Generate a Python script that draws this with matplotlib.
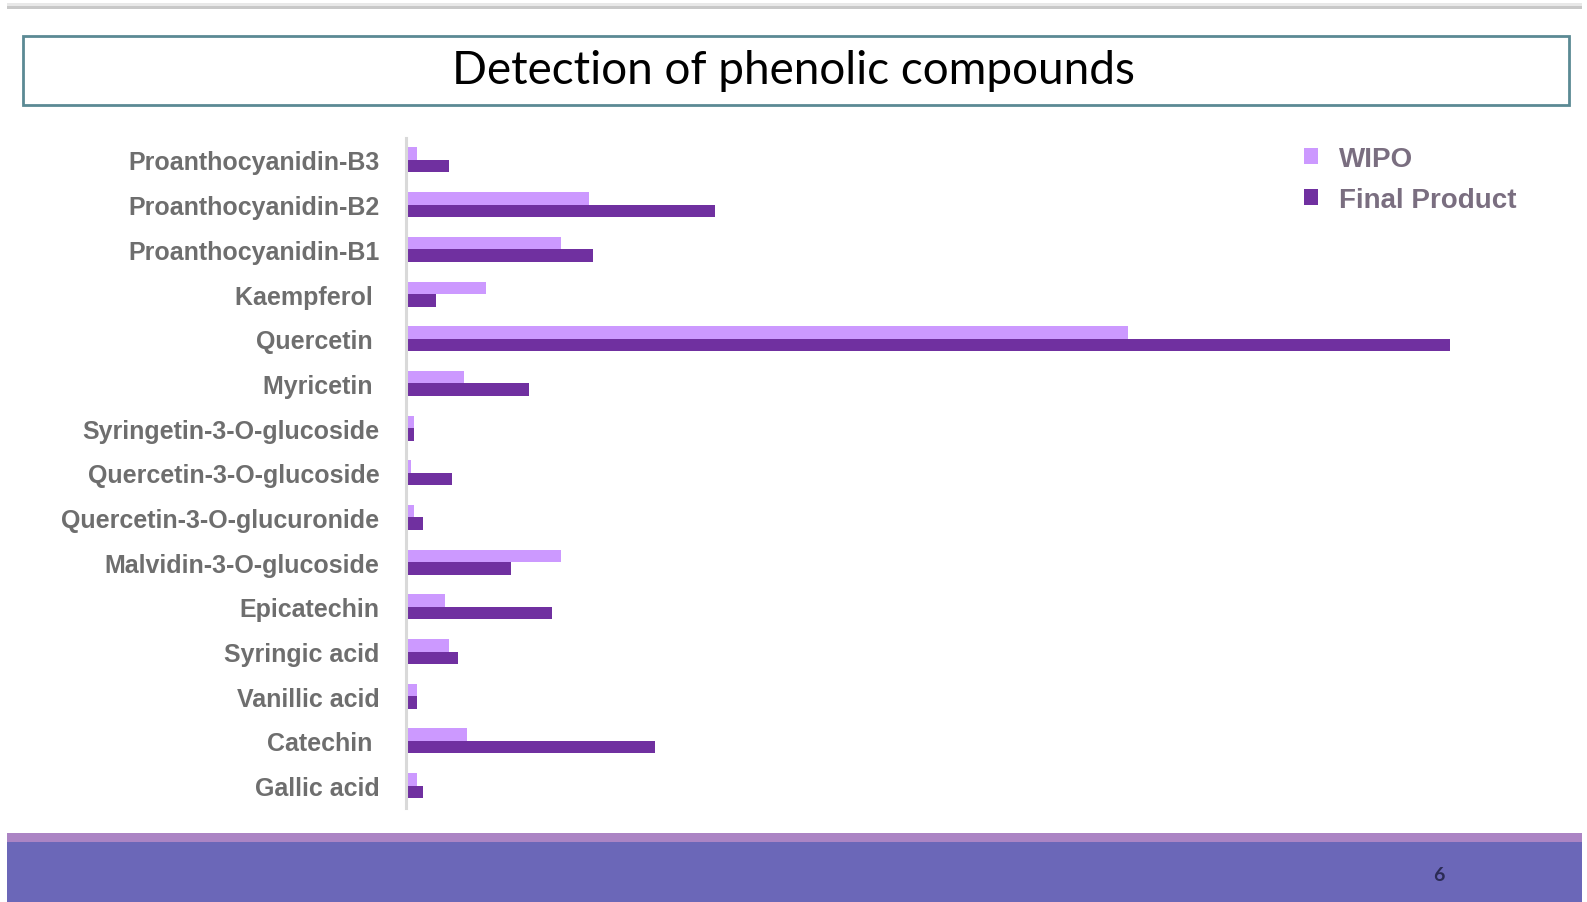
import numpy as np
import matplotlib
matplotlib.use("Agg")
import matplotlib.pyplot as plt
from matplotlib.patches import Rectangle

compounds = [
    "Proanthocyanidin-B3",
    "Proanthocyanidin-B2",
    "Proanthocyanidin-B1",
    "Kaempferol ",
    "Quercetin ",
    "Myricetin ",
    "Syringetin-3-O-glucoside",
    "Quercetin-3-O-glucoside",
    "Quercetin-3-O-glucuronide",
    "Malvidin-3-O-glucoside",
    "Epicatechin",
    "Syringic acid",
    "Vanillic acid",
    "Catechin ",
    "Gallic acid",
]
wipo = [9, 181, 153, 78, 720, 56, 6, 3, 6, 153, 37, 41, 9, 59, 9]
final_product = [41, 307, 185, 28, 1042, 121, 6, 44, 15, 103, 144, 50, 9, 247, 15]

W, H = 1587, 903
fig = plt.figure(figsize=(W / 100, H / 100), dpi=100)
fig.patch.set_facecolor("white")

def box(x0, y0, x1, y1, **kw):
    # pixel coords, y measured from the top
    fig.add_artist(Rectangle((x0 / W, 1 - y1 / H), (x1 - x0) / W, (y1 - y0) / H,
                             transform=fig.transFigure, **kw))

# slide decorations
box(7, 4, 1582, 7, facecolor="#e8e8e8", edgecolor="none")
box(7, 7, 1582, 10, facecolor="#c8c8c8", edgecolor="none")
box(23, 37, 1569, 106, facecolor="white", edgecolor="#5b8a94", linewidth=2)
box(7, 834, 1582, 843, facecolor="#ab84c4", edgecolor="none")
box(7, 843, 1582, 903, facecolor="#6b67b8", edgecolor="none")

fig.text(0.5, 1 - 71 / H, "Detection of phenolic compounds", ha="center", va="center",
         fontsize=33, family=["Lato", "DejaVu Sans"], color="black")
fig.text(1439 / W, 1 - 876 / H, "6", ha="center", va="center", fontsize=14,
         family=["Lato", "DejaVu Sans"], fontweight="bold", color="#2b2b55")

# chart
ax = fig.add_axes([408 / W, 1 - 809 / H, (1500 - 408) / W, (809 - 138.6) / H])
for s in ["top", "right", "bottom"]:
    ax.spines[s].set_visible(False)
ax.spines["left"].set_color("#d9d9d9")
ax.spines["left"].set_linewidth(2.2)
ax.spines["left"].set_position(("outward", 1.5))  # resets ticks, so do it first

y = np.arange(len(compounds))
h = 0.28
ax.barh(y - h / 2, wipo, height=h, color="#cc99ff", label="WIPO")
ax.barh(y + h / 2, final_product, height=h, color="#7030a0", label="Final Product")
ax.set_xlim(0, 1092)
ax.set_ylim(len(compounds) - 0.5, -0.5)
ax.set_xticks([])
ax.tick_params(axis="y", length=0, pad=19, labelsize=18, labelcolor="#6e6e6e")
ax.set_yticks(y)
ax.set_yticklabels(compounds, fontweight="bold", family=["Liberation Sans", "DejaVu Sans"])

leg = ax.legend(loc="upper left", bbox_to_anchor=(1290 / W, 1 - 133 / H),
                bbox_transform=fig.transFigure, frameon=False, borderpad=0,
                handlelength=0.5, handleheight=0.5, handletextpad=0.75,
                labelspacing=0.55, prop={"family": ["Liberation Sans", "DejaVu Sans"],
                                         "weight": "bold", "size": 20})
for t in leg.get_texts():
    t.set_color("#7a6e80")

fig.savefig("out.png", dpi=100, facecolor="white")
